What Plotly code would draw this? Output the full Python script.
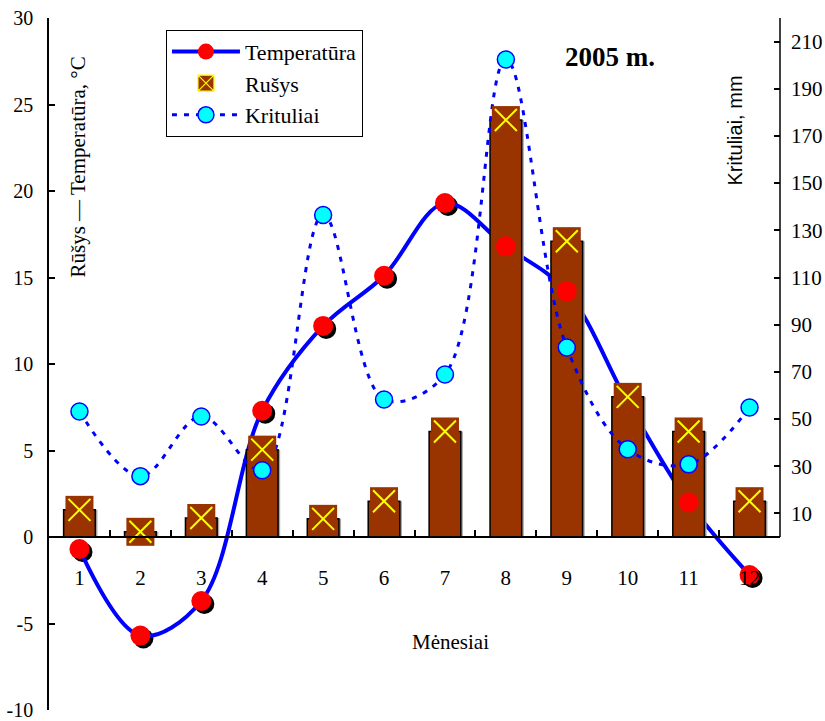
import plotly.graph_objects as go

# ---------------- data ----------------
months = [str(i) for i in range(1, 13)]
temperatura = [-0.7, -5.7, -3.7, 7.3, 12.2, 15.1, 19.3, 16.8, 14.2, 7.8, 2.0, -2.2]
rusys = [1.57, 0.3, 1.1, 5.05, 1.05, 2.07, 6.1, 24.1, 17.1, 8.1, 6.1, 2.07]
krituliai = [53.2, 25.8, 51.1, 28.3, 136.5, 58.3, 68.9, 202.4, 80.3, 37.2, 30.8, 54.9]
left_ticks = list(range(-10, 31, 5))
left_ticktext = [str(v) for v in left_ticks]
right_ticks = list(range(10, 211, 20))

SERIF = "Liberation Serif, Times New Roman, serif"
SANS = "Liberation Sans, Arial, sans-serif"
BLUE = "#0000FF"
BROWN = "#993300"
RED = "#FF0000"
CYAN = "#00FFFF"
YELLOW = "#FFFF00"

L_RANGE = [-10, 30]
R_TOP = 220
R_RANGE = [-R_TOP / 3.0, R_TOP]   # 0 of right axis sits on the 0 of the left axis
X_RANGE = [-0.5, 11.5]
DX, DY = 0.05, 0.17               # shadow shift (~3 px)

fig = go.Figure()

# shadows of temperature markers (bottom layer, on shifted axes)
fig.add_trace(go.Scatter(x=months, y=temperatura, mode="markers", xaxis="x", yaxis="y",
                         marker=dict(color="black", size=20), showlegend=False, hoverinfo="skip"))
# temperature curve
fig.add_trace(go.Scatter(x=months, y=temperatura, mode="lines", xaxis="x2", yaxis="y2",
                         line=dict(color=BLUE, width=4, shape="spline", smoothing=1.0),
                         showlegend=False))
# bars (shadow + bar)
fig.add_trace(go.Bar(x=months, y=rusys, xaxis="x2", yaxis="y3", width=0.52, offset=-0.26 + 0.035,
                     marker=dict(color="#AAAAAA", line=dict(width=0)), showlegend=False, hoverinfo="skip"))
fig.add_trace(go.Bar(x=months, y=rusys, xaxis="x2", yaxis="y3", width=0.52,
                     marker=dict(color=BROWN, line=dict(color="black", width=1.5)), showlegend=False))
# precipitation dotted curve
fig.add_trace(go.Scatter(x=months, y=krituliai, mode="lines", xaxis="x2", yaxis="y4",
                         line=dict(color=BLUE, width=3, dash="5px,7px", shape="spline", smoothing=1.0),
                         showlegend=False))
# red temperature markers
fig.add_trace(go.Scatter(x=months, y=temperatura, mode="markers", xaxis="x2", yaxis="y5",
                         marker=dict(color=RED, size=20, line=dict(width=0)), showlegend=False))
# Rusys square markers with X
fig.add_trace(go.Scatter(x=months, y=rusys, mode="markers", xaxis="x2", yaxis="y6",
                         marker=dict(symbol="square", color=BROWN, size=28, line=dict(width=0)),
                         showlegend=False))
fig.add_trace(go.Scatter(x=months, y=rusys, mode="markers", xaxis="x2", yaxis="y6",
                         marker=dict(symbol="x-thin-open", size=22, color=YELLOW,
                                     line=dict(color=YELLOW, width=2)),
                         showlegend=False, hoverinfo="skip"))
# cyan precipitation markers
fig.add_trace(go.Scatter(x=months, y=krituliai, mode="markers", xaxis="x2", yaxis="y7",
                         marker=dict(color=CYAN, size=17, line=dict(color=BLUE, width=1.5)),
                         showlegend=False))

# legend entries
fig.add_trace(go.Scatter(x=[None], y=[None], mode="lines+markers", name="Temperatūra",
                         xaxis="x2", yaxis="y2", legendgroup="a",
                         line=dict(color=BLUE, width=4), marker=dict(color=RED, size=20)))
fig.add_trace(go.Scatter(x=[None], y=[None], mode="markers", name="Rušys",
                         xaxis="x2", yaxis="y2", legendgroup="b",
                         marker=dict(symbol="square-x", color=BROWN, size=20,
                                     line=dict(color=YELLOW, width=1.2))))
fig.add_trace(go.Scatter(x=[None], y=[None], mode="lines+markers", name="Krituliai",
                         xaxis="x2", yaxis="y2", legendgroup="c",
                         line=dict(color=BLUE, width=3, dash="5px,7px"),
                         marker=dict(color=CYAN, size=17, line=dict(color=BLUE, width=1.5))))

hidden = dict(visible=False, showgrid=False, zeroline=False, automargin=False)
fig.update_layout(
    width=825, height=721,
    margin=dict(l=49, r=45, t=18, b=11, autoexpand=False),
    paper_bgcolor="white", plot_bgcolor="white",
    barmode="overlay",
    font=dict(family=SERIF, size=21, color="black"),
    showlegend=True,
    legend=dict(x=0.16, y=0.983, xanchor="left", yanchor="top",
                bordercolor="black", borderwidth=1, bgcolor="white",
                font=dict(family=SERIF, size=22), itemwidth=68,
                tracegroupgap=24, traceorder="normal"),
    xaxis=dict(type="category", categoryorder="array", categoryarray=months,
               range=[X_RANGE[0] - DX, X_RANGE[1] - DX], **hidden),
    yaxis=dict(range=[L_RANGE[0] + DY, L_RANGE[1] + DY], **hidden),
    xaxis2=dict(type="category", categoryorder="array", categoryarray=months,
                overlaying="x", range=X_RANGE, anchor="free", position=0.25,
                showline=True, linecolor="black", linewidth=1.5, automargin=False,
                ticks="inside", tickson="boundaries", ticklen=6, tickwidth=1.5, tickcolor="black",
                showgrid=False, zeroline=False, ticklabelstandoff=22,
                tickfont=dict(family=SERIF, size=21)),
    yaxis2=dict(overlaying="y", range=L_RANGE, anchor="x", side="left",
                tickvals=left_ticks, ticktext=left_ticktext, ticklabeloverflow="allow",
                showline=True, linecolor="black", linewidth=1.5, automargin=False,
                ticks="inside", ticklen=6, tickwidth=1.5, tickcolor="black",
                showgrid=False, zeroline=False, ticklabelstandoff=10,
                tickfont=dict(family=SERIF, size=20)),
    yaxis3=dict(overlaying="y", range=L_RANGE, **hidden),
    yaxis4=dict(overlaying="y", range=R_RANGE, anchor="x", side="right",
                tickvals=right_ticks, showline=False, automargin=False,
                ticks="inside", ticklen=6, tickwidth=1.5, tickcolor="black",
                showgrid=False, zeroline=False, ticklabelstandoff=10,
                tickfont=dict(family=SERIF, size=21)),
    yaxis5=dict(overlaying="y", range=L_RANGE, **hidden),
    yaxis6=dict(overlaying="y", range=L_RANGE, **hidden),
    yaxis7=dict(overlaying="y", range=R_RANGE, **hidden),
)

# right axis line (only over the 0..top part)
fig.add_shape(type="line", xref="paper", yref="y4", x0=1, x1=1, y0=0, y1=R_TOP,
              line=dict(color="black", width=1.5))

ann = dict(xref="paper", yref="paper", showarrow=False, xanchor="center", yanchor="middle")
fig.add_annotation(text="<b>2005 m.</b>", x=0.767, y=0.944,
                   font=dict(family=SERIF, size=27), **ann)
fig.add_annotation(text="Rūšys — Temperatūra, °C", x=0.0397, y=0.784,
                   textangle=-90, font=dict(family=SERIF, size=21), **ann)
fig.add_annotation(text="Krituliai, mm", x=0.938, y=0.837,
                   textangle=-90, font=dict(family=SANS, size=20), **ann)
fig.add_annotation(text="Mėnesiai", x=0.5486, y=0.0978,
                   font=dict(family=SERIF, size=21), **ann)

fig.write_html("out.html")
